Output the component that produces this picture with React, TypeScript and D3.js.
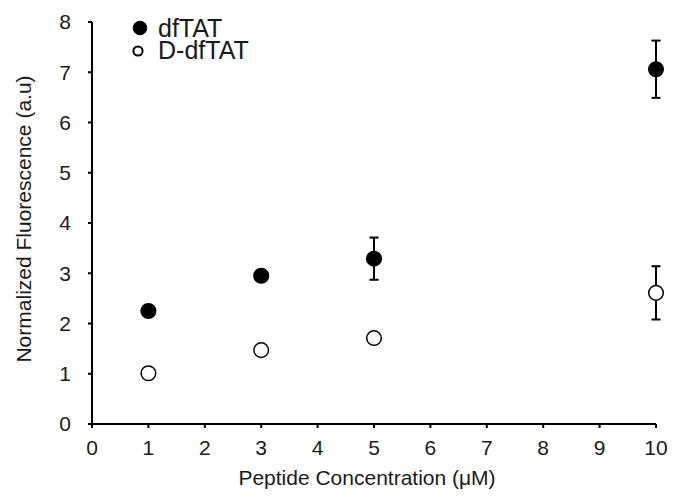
import React from "react";
import * as d3 from "d3";

const concentrations = [1, 3, 5, 10];
const dfTAT = [2.25, 2.95, 3.29, 7.06];
const dfTATErr = [0.08, 0.0, 0.42, 0.57];
const dDfTAT = [1.01, 1.47, 1.71, 2.61];
const dDfTATErr = [0.0, 0.0, 0.0, 0.53];
const xTicks = [0, 1, 2, 3, 4, 5, 6, 7, 8, 9, 10];
const yTicks = [0, 1, 2, 3, 4, 5, 6, 7, 8];
const seriesNames = ["dfTAT", "D-dfTAT"];

export default function App() {
  const W = 677, H = 497;
  const x = d3.scaleLinear().domain([0, 10]).range([92, 656]);
  const y = d3.scaleLinear().domain([0, 8]).range([424, 22]);
  const font = "Arial, 'Liberation Sans', sans-serif";
  const col = "#1a1a1a";
  const fs = 21;
  const series = [
    { vals: dfTAT, err: dfTATErr, fill: "#000" },
    { vals: dDfTAT, err: dDfTATErr, fill: "#fff" },
  ];
  return (
    <svg width={W} height={H} style={{ position: "absolute", left: 0, top: 0, background: "#fff" }}>
      <line x1={x(0)} x2={x(0)} y1={y(8)} y2={y(0)} stroke="#000" strokeWidth={2} />
      <line x1={x(0) - 1} x2={x(10)} y1={y(0)} y2={y(0)} stroke="#000" strokeWidth={2} />
      {yTicks.map((t) => (
        <g key={"y" + t}>
          <line x1={x(0) - 4} x2={x(0)} y1={y(t)} y2={y(t)} stroke="#000" strokeWidth={2} />
          <text x={x(0) - 21} y={y(t)} dy="0.35em" textAnchor="end" fontFamily={font} fontSize={fs} fill={col}>{t}</text>
        </g>
      ))}
      {xTicks.map((t) => (
        <g key={"x" + t}>
          <line x1={x(t)} x2={x(t)} y1={y(0)} y2={y(0) + 4} stroke="#000" strokeWidth={2} />
          <text x={x(t)} y={y(0) + 31} textAnchor="middle" fontFamily={font} fontSize={fs} fill={col}>{t}</text>
        </g>
      ))}
      <text x={367} y={485} textAnchor="middle" fontFamily={font} fontSize={fs} fill={col}>Peptide Concentration (μM)</text>
      <text transform={`translate(31,219) rotate(-90)`} textAnchor="middle" fontFamily={font} fontSize={fs} fill={col}>Normalized Fluorescence (a.u)</text>
      {series.map((s, si) =>
        concentrations.map((c, i) =>
          s.err[i] > 0 ? (
            <g key={`e${si}-${i}`} stroke="#000" strokeWidth={2}>
              <line x1={x(c)} x2={x(c)} y1={y(s.vals[i] + s.err[i])} y2={y(s.vals[i] - s.err[i])} />
              <line x1={x(c) - 4.5} x2={x(c) + 4.5} y1={y(s.vals[i] + s.err[i])} y2={y(s.vals[i] + s.err[i])} />
              <line x1={x(c) - 4.5} x2={x(c) + 4.5} y1={y(s.vals[i] - s.err[i])} y2={y(s.vals[i] - s.err[i])} />
            </g>
          ) : null
        )
      )}
      {series.map((s, si) =>
        concentrations.map((c, i) => (
          <circle key={`p${si}-${i}`} cx={x(c)} cy={y(s.vals[i])} r={7.3} fill={s.fill} stroke="#000" strokeWidth={1.5} />
        ))
      )}
      {seriesNames.map((n, i) => (
        <g key={n}>
          <circle cx={i === 0 ? 140 : 138} cy={i === 0 ? 28 : 51} r={i === 0 ? 6.8 : 4.6} fill={i === 0 ? "#000" : "#fff"} stroke="#000" strokeWidth={i === 0 ? 1 : 2} />
          <text x={158} y={i === 0 ? 28 : 50} dy="0.35em" fontFamily={font} fontSize={25} fill={col}>{n}</text>
        </g>
      ))}
    </svg>
  );
}
